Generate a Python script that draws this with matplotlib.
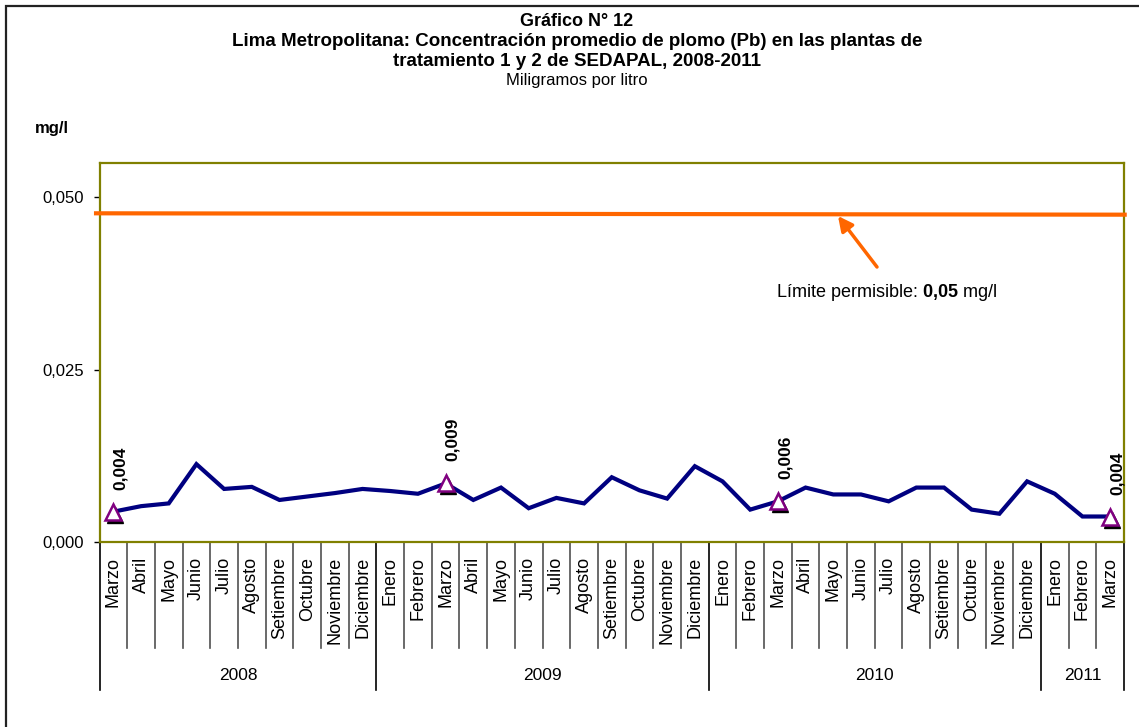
import matplotlib
matplotlib.use("Agg")
import matplotlib.pyplot as plt
import matplotlib.transforms as mtransforms
from matplotlib.patches import Rectangle
from matplotlib.lines import Line2D

plt.rcParams['font.family'] = ['Liberation Sans', 'DejaVu Sans']
plt.rcParams['mathtext.fontset'] = 'custom'
plt.rcParams['mathtext.rm'] = 'Liberation Sans'
plt.rcParams['mathtext.bf'] = 'Liberation Sans:bold'

# ---- data ----
months = ['Marzo', 'Abril', 'Mayo', 'Junio', 'Julio', 'Agosto', 'Setiembre', 'Octubre',
          'Noviembre', 'Diciembre',
          'Enero', 'Febrero', 'Marzo', 'Abril', 'Mayo', 'Junio', 'Julio', 'Agosto',
          'Setiembre', 'Octubre', 'Noviembre', 'Diciembre',
          'Enero', 'Febrero', 'Marzo', 'Abril', 'Mayo', 'Junio', 'Julio', 'Agosto',
          'Setiembre', 'Octubre', 'Noviembre', 'Diciembre',
          'Enero', 'Febrero', 'Marzo']
years = ['2008', '2009', '2010', '2011']
year_counts = [10, 12, 12, 3]
pb_values = [0.0044, 0.0052, 0.0056, 0.0113, 0.0077, 0.0080, 0.0061, 0.0066, 0.0071, 0.0077,
             0.0074, 0.0070, 0.0085, 0.0061, 0.0079, 0.0049, 0.0064, 0.0056,
             0.0094, 0.0075, 0.0063, 0.0110,
             0.0088, 0.0047, 0.0059, 0.0079, 0.0069, 0.0069, 0.0059, 0.0079,
             0.0079, 0.0047, 0.0041, 0.0088,
             0.0070, 0.0037, 0.0037]
marked_idx = [0, 12, 24, 36]
marked_labels = ['0,004', '0,009', '0,006', '0,004']
limit_line = [0.0477, 0.0475]   # drawn limit line (left, right)
y_ticks = [0.0, 0.025, 0.050]
y_tick_labels = ['0,000', '0,025', '0,050']

W, H = 1139, 727
fig = plt.figure(figsize=(W / 100, H / 100), dpi=100)
fig.patch.set_facecolor('white')

def fx(px):
    return px / W

def fy(py):
    return 1 - py / H

ax_l, ax_r, ax_t, ax_b = 99.5, 1124, 163, 542
ax = fig.add_axes([fx(ax_l), fy(ax_b), (ax_r - ax_l) / W, (ax_b - ax_t) / H])
ax_h_px = ax_b - ax_t

n = len(months)
x = list(range(n))

# limit line
ax.plot([-0.5 - 0.2, n - 0.5 + 0.1], limit_line, color='#FF6600', lw=3.0,
        solid_capstyle='butt', clip_on=False, zorder=3)

# main series
ax.plot(x, pb_values, color='#000080', lw=3.0, zorder=4, solid_joinstyle='miter')

# markers with shadow
mx = [x[i] for i in marked_idx]
my = [pb_values[i] for i in marked_idx]
shadow = mtransforms.offset_copy(ax.transData, fig=fig, x=2, y=-3, units='dots')
ax.plot(mx, my, linestyle='none', marker='^', markersize=11.5, color='black',
        transform=shadow, zorder=5, clip_on=False)
ax.plot(mx, my, linestyle='none', marker='^', markersize=11.5, markerfacecolor='white',
        markeredgecolor='#800080', markeredgewidth=1.8, zorder=6, clip_on=False)
for xi, yi, lab in zip(mx, my, marked_labels):
    ax.annotate(lab, (xi, yi), xytext=(7, 22), textcoords='offset pixels',
                rotation=90, ha='center', va='bottom', fontsize=12.5, fontweight='bold',
                zorder=7)

ax.set_xlim(-0.5, n - 0.5)
ax.set_ylim(0, 0.055)
ax.set_yticks(y_ticks)
ax.set_yticklabels(y_tick_labels, fontsize=12)
ax.set_xticks([])
ax.tick_params(axis='y', direction='out', length=4, width=1, color='black', pad=7)
for s in ax.spines.values():
    s.set_color('#808000')
    s.set_linewidth(1.6)

# category axis: month labels and separators
trans = mtransforms.blended_transform_factory(ax.transData, ax.transAxes)
short_sep = -106 / ax_h_px
long_sep = -148 / ax_h_px
year_bounds = [0]
for c in year_counts:
    year_bounds.append(year_bounds[-1] + c)
for b in range(n + 1):
    is_year = b in year_bounds
    ax.add_line(Line2D([b - 0.5, b - 0.5], [0, long_sep if is_year else short_sep],
                       transform=trans, color='black' if is_year else '#505050',
                       lw=1.2, clip_on=False))
for i, m in enumerate(months):
    ax.text(i, -15 / ax_h_px, m, transform=trans, rotation=90, ha='center', va='top',
            fontsize=13)
for k, yr in enumerate(years):
    center = (year_bounds[k] + year_bounds[k + 1]) / 2 - 0.5
    ax.text(center, -134 / ax_h_px, yr, transform=trans, ha='center', va='center',
            fontsize=12.5)

# titles
fig.text(fx(577), fy(22), 'Gráfico N° 12', ha='center', va='center', fontsize=13,
         fontweight='bold')
fig.text(fx(577), fy(42),
         'Lima Metropolitana: Concentración promedio de plomo (Pb) en las plantas de',
         ha='center', va='center', fontsize=13.5, fontweight='bold')
fig.text(fx(577), fy(61), 'tratamiento 1 y 2 de SEDAPAL, 2008-2011', ha='center',
         va='center', fontsize=13.5, fontweight='bold')
fig.text(fx(577), fy(80), 'Miligramos por litro', ha='center', va='center', fontsize=12)
fig.text(fx(35), fy(129), 'mg/l', ha='left', va='center', fontsize=12, fontweight='bold')

# annotation
fig.text(fx(776), fy(293), r'Límite permisible: $\mathbf{0{,}05}$ mg/l', ha='left',
         va='center', fontsize=13)
ax.annotate('', xy=(838, H - 216), xycoords='figure pixels',
            xytext=(877, H - 267), textcoords='figure pixels',
            arrowprops=dict(arrowstyle='-|>', color='#FF6600', lw=2.5,
                            mutation_scale=22, shrinkA=0, shrinkB=0))

# outer frame
fig.add_artist(Rectangle((fx(6), -0.5), 2.0, fy(6) + 0.5, transform=fig.transFigure,
                         fill=False, edgecolor='#222222', lw=1.6, clip_on=False))

fig.savefig('out.png', dpi=100)
